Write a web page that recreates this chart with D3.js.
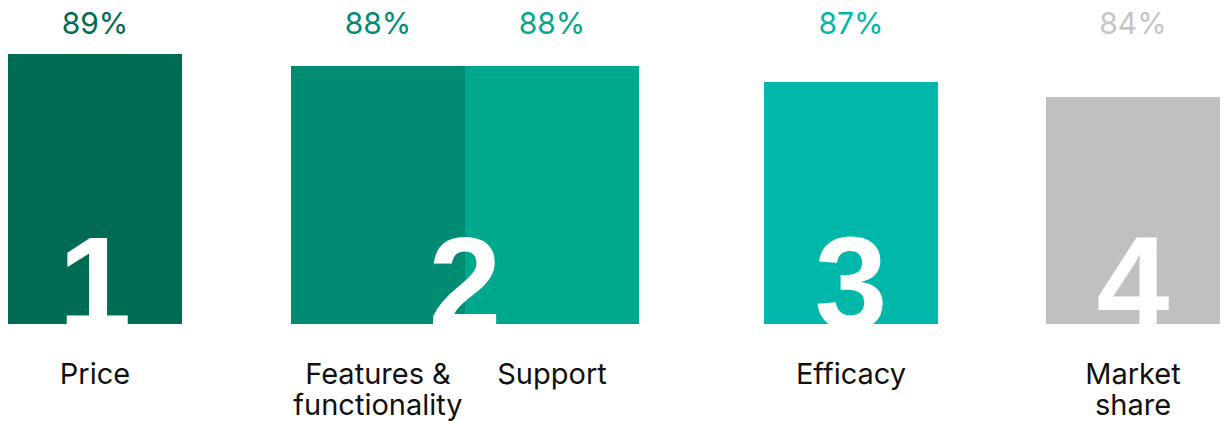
<!DOCTYPE html>
<html lang="en">
<head>
    <meta charset="UTF-8">
    <title>Purchase drivers</title>
    <style>
        body { margin: 0; background: #fff; }
        svg { display: block; }
    </style>
    <script src="https://cdn.jsdelivr.net/npm/d3@7"></script>
</head>
<body>
<script>
    // data
    var categories = ["Price", "Features & functionality", "Support", "Efficacy", "Market share"];
    var values = [89, 88, 88, 87, 84];
    var ranks = [1, 2, 2, 3, 4];
    var barColors = ["#006b54", "#008c73", "#00a88e", "#00b8a9", "#bfc0c2"];
    var labelColors = ["#006b54", "#008c73", "#00a88e", "#00b8a9", "#c4c5c7"];

    var width = 1226, height = 421;
    var baseY = 324, barW = 174;

    // left edge of each bar (the layout is not evenly spaced)
    var x = d3.scaleOrdinal()
        .domain(categories)
        .range([8, 291, 465, 764, 1046]);

    // heights in the original are not proportional, so use a piecewise scale
    var y = d3.scaleLinear()
        .domain([84, 87, 88, 89])
        .range([97, 82, 66, 54]);

    var svg = d3.select("body").append("svg")
        .attr("width", width)
        .attr("height", height);

    svg.append("defs").append("clipPath")
        .attr("id", "clip")
        .append("rect")
        .attr("x", 0).attr("y", 0)
        .attr("width", width).attr("height", baseY);

    var data = categories.map((c, i) => ({cat: c, value: values[i], rank: ranks[i], color: barColors[i], lc: labelColors[i]}));

    // bars
    svg.selectAll("rect.bar")
        .data(data)
        .enter().append("rect")
        .attr("class", "bar")
        .attr("x", d => x(d.cat))
        .attr("y", d => y(d.value))
        .attr("width", barW)
        .attr("height", d => baseY - y(d.value))
        .attr("fill", d => d.color);

    // percentages
    svg.selectAll("text.pct")
        .data(data)
        .enter().append("text")
        .attr("class", "pct")
        .attr("x", d => x(d.cat) + barW / 2)
        .attr("y", 34)
        .attr("text-anchor", "middle")
        .style("font-family", "Inter, 'Noto Sans', sans-serif")
        .style("font-size", "30px")
        .attr("fill", d => d.lc)
        .text(d => d.value + "%");

    // category labels, wrapped on a space where needed
    var lines = {"Features & functionality": ["Features &", "functionality"], "Market share": ["Market", "share"]};
    svg.selectAll("text.cat")
        .data(data)
        .enter().append("text")
        .attr("class", "cat")
        .attr("text-anchor", "middle")
        .style("font-family", "Inter, 'Noto Sans', sans-serif")
        .style("font-size", "29px")
        .attr("fill", "#111")
        .each(function(d) {
            var t = d3.select(this);
            (lines[d.cat] || [d.cat]).forEach((s, k) => {
                t.append("tspan")
                    .attr("x", x(d.cat) + barW / 2)
                    .attr("y", 384 + k * 31)
                    .text(s);
            });
        });

    // big rank digits, one per rank group, clipped at the bar base
    var groups = d3.groups(data, d => d.rank);
    svg.append("g")
        .attr("clip-path", "url(#clip)")
        .selectAll("text")
        .data(groups)
        .enter().append("text")
        .attr("x", g => {
            var xs = g[1].map(d => x(d.cat));
            return (d3.min(xs) + d3.max(xs) + barW) / 2;
        })
        .attr("y", 329)
        .attr("text-anchor", "middle")
        .style("font-family", "'Liberation Sans', Arial, sans-serif")
        .style("font-weight", "bold")
        .style("font-size", "131px")
        .attr("fill", "#fff")
        .text(g => g[0]);
</script>
</body>
</html>
